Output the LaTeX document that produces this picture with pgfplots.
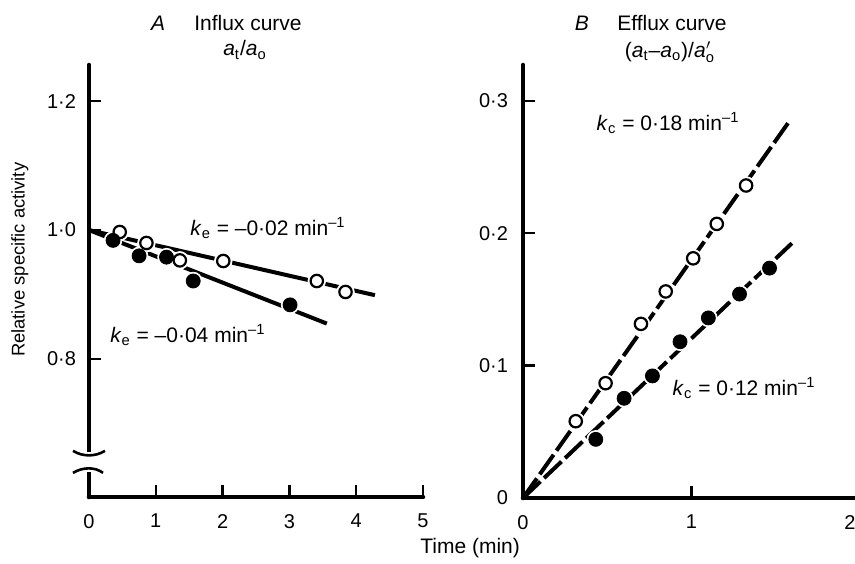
\documentclass[border=0pt]{standalone}
\usepackage{fontspec}
\setmainfont{Liberation Sans}
\usepackage{pgfplots}
\pgfplotsset{compat=1.18}
\begin{document}
\begin{tikzpicture}[font=\fontsize{10.5}{12}\selectfont]
\pgfplotsset{
  common/.style={
    scale only axis,
    axis x line=bottom, axis y line=left,
    axis line style={-, line width=2.3pt, line cap=round},
    tick align=inside,
    major tick length=6pt,
    every tick/.style={black, line width=1.2pt},
    tick label style={font=\fontsize{10}{12}\selectfont},
    xticklabel style={yshift=-5pt},
    clip=false,
    /pgf/number format/assume math mode=true,
  },
  halo/.style={only marks, mark=*, mark size=4.4pt, mark options={draw=white, fill=white}},
  openm/.style={only marks, mark=*, mark size=3.1pt, mark options={draw=black, fill=white, line width=1.1pt}},
  fillm/.style={only marks, mark=*, mark size=3.5pt, mark options={draw=black, fill=black}},
}
% ---------------- Panel A ----------------
\begin{axis}[common,
  at={(44.5pt,33pt)}, anchor=south west,
  width=167pt, height=216pt,
  xmin=0, xmax=5, ymin=0.586, ymax=1.256,
  xtick={0,1,2,3,4,5},
  ytick={0.8,1.0,1.2}, yticklabels={0·8,1·0,1·2},
  yticklabel style={xshift=-3pt},
  xlabel={Time (min)},
  xlabel style={at={(rel axis cs:1.141,-0.118)}, anchor=center},
  ylabel={Relative specific activity},
  ylabel style={at={(rel axis cs:-0.207,0.549)}, anchor=center, rotate=0, font=\fontsize{9.2}{11}\selectfont},
]
\addplot[line width=2pt] coordinates {(0,1.0) (4.28,0.899)};
\addplot[line width=2pt] coordinates {(0,1.0) (3.56,0.855)};
\addplot[halo] coordinates {(0.46,0.997) (0.86,0.980) (1.36,0.953) (2.01,0.952) (3.41,0.921) (3.84,0.904)
  (0.36,0.984) (0.75,0.960) (1.16,0.958) (1.56,0.921) (3.01,0.884)};
\addplot[openm] coordinates {(0.46,0.997) (0.86,0.980) (1.36,0.953) (2.01,0.952) (3.41,0.921) (3.84,0.904)};
\addplot[fillm] coordinates {(0.36,0.984) (0.75,0.960) (1.16,0.958) (1.56,0.921) (3.01,0.884)};
\node at (rel axis cs:0.2066,1.097) {\textit{A}};
\node at (rel axis cs:0.476,1.097) {Influx curve};
\node at (rel axis cs:0.467,1.035) {\textit{a}\textsubscript{t}/\textit{a}\textsubscript{o}};
\node at (axis cs:2.68,1.003) {\textit{k}\textsubscript{e} = –0·02 min\textsuperscript{–1}};
\node at (axis cs:1.48,0.837) {\textit{k}\textsubscript{e} = –0·04 min\textsuperscript{–1}};
\coordinate (bt) at (axis cs:0,0.656);
\coordinate (bb) at (axis cs:0,0.625);
\end{axis}
\fill[white] ([xshift=-3pt]bb) rectangle ([xshift=3pt]bt);
\draw[line width=1.3pt] ([xshift=-8pt,yshift=0.5pt]bt) .. controls ([xshift=-3pt,yshift=-2.5pt]bt) and ([xshift=3pt,yshift=-2.5pt]bt) .. ([xshift=8pt,yshift=0.5pt]bt);
\draw[line width=1.3pt] ([xshift=-8pt,yshift=-0.5pt]bb) .. controls ([xshift=-3pt,yshift=2.5pt]bb) and ([xshift=3pt,yshift=2.5pt]bb) .. ([xshift=7pt,yshift=-0.5pt]bb);
% ---------------- Panel B ----------------
\begin{axis}[common,
  at={(261.5pt,32.5pt)}, anchor=south west,
  width=168.5pt, height=216.5pt,
  xmin=0, xmax=2, ymin=0, ymax=0.327,
  xtick={0,1},
  extra x ticks={2}, extra x tick labels={2},
  extra x tick style={major tick length=0pt, xticklabel style={xshift=-5pt}},
  ytick={0,0.1,0.2,0.3}, yticklabels={0,0·1,0·2,0·3},
  yticklabel style={xshift=-4pt},
]
\addplot[line width=2pt, dash pattern=on 12pt off 2.5pt] coordinates {(0,0) (1.58,0.2844)};
\addplot[line width=2pt, dash pattern=on 12pt off 2.5pt] coordinates {(0,0) (1.596,0.1924)};
\addplot[halo] coordinates {(0.313,0.058) (0.49,0.0867) (0.70,0.1315) (0.847,0.156) (1.01,0.181) (1.15,0.207) (1.324,0.236)
  (0.432,0.0443) (0.60,0.0753) (0.768,0.0922) (0.932,0.118) (1.10,0.136) (1.285,0.154) (1.463,0.1736)};
\addplot[openm] coordinates {(0.313,0.058) (0.49,0.0867) (0.70,0.1315) (0.847,0.156) (1.01,0.181) (1.15,0.207) (1.324,0.236)};
\addplot[fillm] coordinates {(0.432,0.0443) (0.60,0.0753) (0.768,0.0922) (0.932,0.118) (1.10,0.136) (1.285,0.154) (1.463,0.1736)};
\node at (rel axis cs:0.175,1.097) {\textit{B}};
\node at (rel axis cs:0.442,1.097) {Efflux curve};
\node at (rel axis cs:0.436,1.030) {(\textit{a}\textsubscript{t}–\textit{a}\textsubscript{o})/\textit{a}$^{\prime}_{\mathrm{o}}$};
\node at (axis cs:0.861,0.2834) {\textit{k}\textsubscript{c} = 0·18 min\textsuperscript{–1}};
\node at (axis cs:1.312,0.0831) {\textit{k}\textsubscript{c} = 0·12 min\textsuperscript{–1}};
\end{axis}
\pgfresetboundingbox
\path[use as bounding box] (0,0) rectangle (427.5pt,281.5pt);
\end{tikzpicture}
\end{document}
